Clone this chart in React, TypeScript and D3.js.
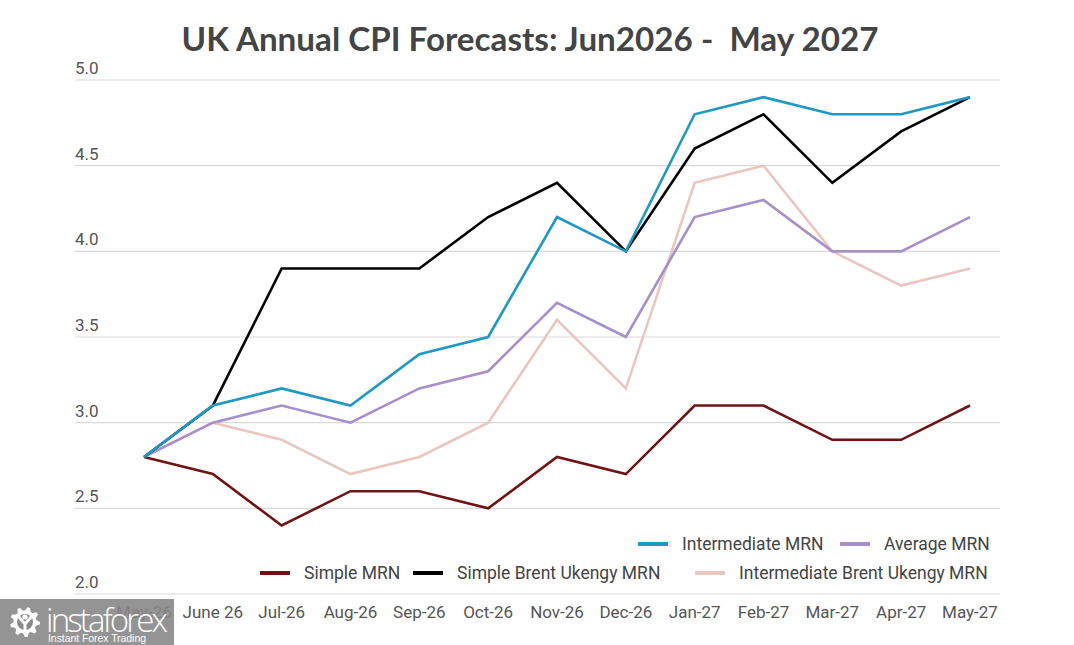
import React, { useRef, useEffect } from 'react';
import * as d3 from 'd3';

const months = ['May-26', 'June 26', 'Jul-26', 'Aug-26', 'Sep-26', 'Oct-26', 'Nov-26', 'Dec-26', 'Jan-27', 'Feb-27', 'Mar-27', 'Apr-27', 'May-27'];
const yTicks = [2.0, 2.5, 3.0, 3.5, 4.0, 4.5, 5.0];

const intermediateMRN = [2.8, 3.1, 3.2, 3.1, 3.4, 3.5, 4.2, 4.0, 4.8, 4.9, 4.8, 4.8, 4.9];
const averageMRN = [2.8, 3.0, 3.1, 3.0, 3.2, 3.3, 3.7, 3.5, 4.2, 4.3, 4.0, 4.0, 4.2];
const simpleMRN = [2.8, 2.7, 2.4, 2.6, 2.6, 2.5, 2.8, 2.7, 3.1, 3.1, 2.9, 2.9, 3.1];
const simpleBrentMRN = [2.8, 3.1, 3.9, 3.9, 3.9, 4.2, 4.4, 4.0, 4.6, 4.8, 4.4, 4.7, 4.9];
const interBrentMRN = [2.8, 3.0, 2.9, 2.7, 2.8, 3.0, 3.6, 3.2, 4.4, 4.5, 4.0, 3.8, 3.9];

interface Serie {
  nombre: string;
  valores: number[];
  color: string;
}

// orden de dibujo (el último queda encima)
const series: Serie[] = [
  { nombre: 'Simple MRN', valores: simpleMRN, color: '#6e1414' },
  { nombre: 'Intermediate Brent Ukengy MRN', valores: interBrentMRN, color: '#e9c6bf' },
  { nombre: 'Average MRN', valores: averageMRN, color: '#a690c8' },
  { nombre: 'Simple Brent Ukengy MRN', valores: simpleBrentMRN, color: '#000000' },
  { nombre: 'Intermediate MRN', valores: intermediateMRN, color: '#1f98c4' },
];

const leyenda = [
  { nombre: 'Intermediate MRN', color: '#1f98c4', x: 638, y: 544 },
  { nombre: 'Average MRN', color: '#a690c8', x: 840, y: 544 },
  { nombre: 'Simple MRN', color: '#6e1414', x: 260, y: 573 },
  { nombre: 'Simple Brent Ukengy MRN', color: '#000000', x: 413, y: 573 },
  { nombre: 'Intermediate Brent Ukengy MRN', color: '#e9c6bf', x: 695, y: 573 },
];

// engranaje del logotipo
const engranaje = (cx: number, cy: number, rOut: number, rIn: number, dientes: number) => {
  const pts: [number, number][] = [];
  const n = dientes * 4;
  for (let i = 0; i < n; i++) {
    const a = (i / n) * Math.PI * 2;
    const r = (i % 4 === 0 || i % 4 === 1) ? rOut : rIn;
    pts.push([cx + r * Math.cos(a), cy + r * Math.sin(a)]);
  }
  return 'M' + pts.map((p) => p.join(',')).join('L') + 'Z';
};

const App: React.FC = () => {
  const svgRef = useRef<SVGSVGElement | null>(null);

  useEffect(() => {
    if (!svgRef.current) return;
    const width = 1074;
    const height = 645;

    const svg = d3.select<SVGSVGElement, unknown>(svgRef.current)
      .attr('width', width)
      .attr('height', height)
      .style('background', '#fff');
    svg.selectAll('*').remove();

    const x = d3.scalePoint<string>().domain(months).range([144, 970]);
    const y = d3.scaleLinear().domain([2, 5]).range([594, 80]);

    // titulo
    svg.append('text')
      .attr('x', 530)
      .attr('y', 51)
      .attr('text-anchor', 'middle')
      .text('UK Annual CPI Forecasts: Jun2026 -  May 2027')
      .style('font-family', 'Lato')
      .style('font-weight', 'bold')
      .style('font-size', '33.2px')
      .style('fill', '#444')
      .style('white-space', 'pre');

    // rejilla
    const grid = svg.append('g');
    grid.selectAll('line')
      .data(yTicks)
      .enter().append('line')
      .attr('x1', 75)
      .attr('x2', 1000)
      .attr('y1', (d) => y(d))
      .attr('y2', (d) => y(d))
      .attr('stroke', '#d9d9d9')
      .attr('stroke-width', 1.2);

    grid.selectAll('text')
      .data(yTicks)
      .enter().append('text')
      .attr('x', 75)
      .attr('y', (d) => y(d) - 6)
      .text((d) => d.toFixed(1))
      .style('font-family', 'Roboto')
      .style('font-size', '17px')
      .style('fill', '#555');

    // eje x
    svg.append('g').selectAll('text')
      .data(months)
      .enter().append('text')
      .attr('x', (d) => x(d) as number)
      .attr('y', 618)
      .attr('text-anchor', 'middle')
      .text((d) => d)
      .style('font-family', 'Roboto')
      .style('font-size', '17px')
      .style('fill', '#555');

    // lineas
    const linea = d3.line<number>()
      .x((d, i) => x(months[i]) as number)
      .y((d) => y(d));

    svg.append('g').selectAll('path')
      .data(series)
      .enter().append('path')
      .attr('d', (d) => linea(d.valores))
      .attr('fill', 'none')
      .attr('stroke', (d) => d.color)
      .attr('stroke-width', 2.6)
      .attr('stroke-linejoin', 'miter');

    // leyenda
    const ley = svg.append('g');
    const item = ley.selectAll('g')
      .data(leyenda)
      .enter().append('g')
      .attr('transform', (d) => `translate(${d.x},${d.y})`);
    item.append('line')
      .attr('x1', 0)
      .attr('x2', 30)
      .attr('y1', 0)
      .attr('y2', 0)
      .attr('stroke', (d) => d.color)
      .attr('stroke-width', 4);
    item.append('text')
      .attr('x', 44)
      .attr('y', 6)
      .text((d) => d.nombre)
      .style('font-family', 'Roboto')
      .style('font-size', '17.5px')
      .style('fill', '#444');

    // marca de agua (semitransparente, deja ver la etiqueta de debajo)
    const marca = svg.append('g');
    marca.append('rect')
      .attr('x', 0)
      .attr('y', 599)
      .attr('width', 174)
      .attr('height', 46)
      .attr('fill', '#858585')
      .attr('opacity', 0.88);
    marca.append('path')
      .attr('d', engranaje(25, 622, 15, 11.5, 9))
      .attr('fill', '#fff');
    marca.append('circle')
      .attr('cx', 25)
      .attr('cy', 622)
      .attr('r', 8)
      .attr('fill', '#8a8a8a');
    marca.append('circle')
      .attr('cx', 25)
      .attr('cy', 617)
      .attr('r', 2.6)
      .attr('fill', '#fff');
    marca.append('path')
      .attr('d', 'M18,616 L25,624 L32,616 M25,624 L25,632')
      .attr('fill', 'none')
      .attr('stroke', '#fff')
      .attr('stroke-width', 3);
    marca.append('text')
      .attr('x', 46)
      .attr('y', 632)
      .text('instaforex')
      .attr('textLength', 122)
      .style('font-family', 'Open Sans')
      .style('font-size', '33px')
      .style('font-weight', 300)
      .style('fill', '#fff');
    marca.append('text')
      .attr('x', 48)
      .attr('y', 642)
      .text('Instant Forex Trading')
      .attr('textLength', 98)
      .style('font-family', 'Liberation Sans')
      .style('font-size', '10.5px')
      .style('fill', '#fff');
  }, []);

  return (
    <svg ref={svgRef} style={{ position: 'absolute', left: 0, top: 0 }}></svg>
  );
};

export default App;
